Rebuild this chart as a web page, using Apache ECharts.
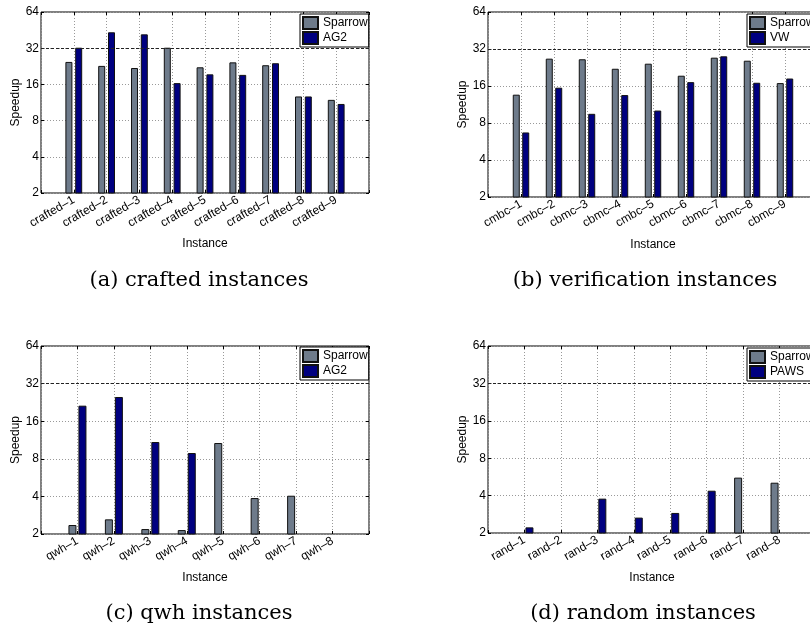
<!DOCTYPE html>
<html>
<head>
    <meta charset="utf-8">
    <title>Speedup</title>
    <script src="https://cdn.jsdelivr.net/npm/echarts@6/dist/echarts.min.js"></script>
</head>
<body style="margin:0;background:#fff;">
    <div id="main" style="width:810px;height:635px;"></div>
    <script type="text/javascript">
        // data
        var craftedNames = ['crafted–1', 'crafted–2', 'crafted–3', 'crafted–4', 'crafted–5', 'crafted–6', 'crafted–7', 'crafted–8', 'crafted–9'];
        var craftedSparrow = [24.6, 22.8, 21.9, 32.3, 22.2, 24.4, 23.1, 12.7, 11.9];
        var craftedAG2 = [32.3, 43.4, 41.7, 16.4, 19.4, 19.2, 24.0, 12.7, 11.0];

        var verifNames = ['cmbc–1', 'cmbc–2', 'cbmc–3', 'cbmc–4', 'cmbc–5', 'cbmc–6', 'cbmc–7', 'cbmc–8', 'cbmc–9'];
        var verifSparrow = [13.6, 26.7, 26.4, 22.1, 24.3, 19.4, 27.2, 25.7, 16.9];
        var verifVW = [6.7, 15.5, 9.5, 13.5, 10.1, 17.2, 27.9, 17.0, 18.4];

        var qwhNames = ['qwh–1', 'qwh–2', 'qwh–3', 'qwh–4', 'qwh–5', 'qwh–6', 'qwh–7', 'qwh–8'];
        var qwhSparrow = [2.36, 2.62, 2.19, 2.15, 10.7, 3.88, 4.05, null];
        var qwhAG2 = [21.3, 25.0, 10.9, 8.9, null, null, null, null];

        var randNames = ['rand–1', 'rand–2', 'rand–3', 'rand–4', 'rand–5', 'rand–6', 'rand–7', 'rand–8'];
        var randSparrow = [null, null, null, null, null, null, 5.58, 5.08];
        var randPAWS = [2.22, null, 3.78, 2.66, 2.9, 4.38, null, null];

        var captions = ['(a) crafted instances', '(b) verification instances', '(c) qwh instances', '(d) random instances'];

        var sans = 'Liberation Sans, Arial, Helvetica, sans-serif';
        var grayBar = '#6e7b8b';
        var navyBar = '#000080';

        // matlab style x axis: empty slot at both ends
        function padNames(a) { return [''].concat(a, ['']); }
        function padVals(a) { return [null].concat(a, [null]); }

        var panels = [
            {names: craftedNames, s: craftedSparrow, o: craftedAG2, other: 'AG2',
             grid: {left: 41, top: 12, width: 328, height: 181}, bw: 7, gap: '40%', xGap: 45, yGap: 18, legend: {left: 300, top: 14}},
            {names: verifNames, s: verifSparrow, o: verifVW, other: 'VW',
             grid: {left: 488, top: 12, width: 330, height: 185}, bw: 7, gap: '35%', xGap: 42, yGap: 18, legend: {left: 747, top: 14}},
            {names: qwhNames, s: qwhSparrow, o: qwhAG2, other: 'AG2',
             grid: {left: 41, top: 346, width: 328, height: 188}, bw: 8, gap: '25%', xGap: 38, yGap: 18, legend: {left: 300, top: 347}},
            {names: randNames, s: randSparrow, o: randPAWS, other: 'PAWS',
             grid: {left: 488, top: 346, width: 328, height: 187}, bw: 8, gap: '25%', xGap: 39, yGap: 18, legend: {left: 747, top: 348}}
        ];

        var grids = [], xAxes = [], yAxes = [], series = [], legends = [];
        var tickStyle = {show: true, inside: true, length: 3, interval: 0, lineStyle: {color: '#000'}};

        for (var i = 0; i < panels.length; i++) {
            var p = panels[i];
            var g = p.grid;
            grids.push({left: g.left, top: g.top, width: g.width, height: g.height,
                show: true, borderColor: '#000', borderWidth: 1, backgroundColor: 'transparent',
                outerBoundsMode: 'none'});
            xAxes.push({
                type: 'category', gridIndex: i, data: padNames(p.names), boundaryGap: false,
                axisLine: {show: false},
                axisTick: tickStyle,
                axisLabel: {rotate: 30, interval: 0, fontSize: 12, color: '#000', margin: 6, fontFamily: sans},
                splitLine: {show: true, interval: 0, lineStyle: {type: [1, 2], color: '#999'}},
                name: 'Instance', nameLocation: 'middle', nameGap: p.xGap,
                nameTextStyle: {fontSize: 12, color: '#000', fontFamily: sans}
            });
            yAxes.push({
                type: 'log', logBase: 2, min: 2, max: 64, gridIndex: i,
                axisLine: {show: false},
                axisTick: tickStyle,
                axisLabel: {fontSize: 12, color: '#000', margin: 2, fontFamily: sans},
                splitLine: {show: true, lineStyle: {type: [1, 2], color: '#999'}},
                name: 'Speedup', nameLocation: 'middle', nameGap: p.yGap, nameRotate: 90,
                nameTextStyle: {fontSize: 12, color: '#000', fontFamily: sans}
            });
            series.push({
                type: 'bar', name: 'Sparrow', xAxisIndex: i, yAxisIndex: i,
                data: padVals(p.s), barWidth: p.bw, barGap: p.gap, clip: true,
                itemStyle: {color: grayBar, borderColor: '#111', borderWidth: 1},
                markLine: {silent: true, symbol: 'none', label: {show: false},
                    lineStyle: {type: [3, 2], color: '#222', width: 1},
                    data: [{yAxis: 32}]}
            });
            series.push({
                type: 'bar', name: p.other, xAxisIndex: i, yAxisIndex: i,
                data: padVals(p.o), barWidth: p.bw, barGap: p.gap, clip: true,
                itemStyle: {color: navyBar, borderColor: '#111', borderWidth: 1}
            });
            legends.push({
                data: ['Sparrow', p.other], orient: 'vertical', left: p.legend.left, top: p.legend.top,
                icon: 'rect', itemWidth: 15, itemHeight: 12, itemGap: 1, padding: [2, 1, 2, 2],
                borderColor: '#000', borderWidth: 1, backgroundColor: '#fff', selectedMode: false,
                textStyle: {fontSize: 12, color: '#000', fontFamily: sans}
            });
        }

        // tick marks on the top and right edges of every box
        for (var j = 0; j < panels.length; j++) {
            xAxes.push({
                type: 'category', gridIndex: j, position: 'top', data: padNames(panels[j].names), boundaryGap: false,
                axisLine: {show: false}, axisTick: tickStyle, axisLabel: {show: false}, splitLine: {show: false}
            });
            yAxes.push({
                type: 'log', logBase: 2, min: 2, max: 64, gridIndex: j, position: 'right',
                axisLine: {show: false}, axisTick: tickStyle, axisLabel: {show: false}, splitLine: {show: false}
            });
        }

        var capPos = [[199, 281], [645, 281], [199, 614], [643, 614]];
        var graphics = [];
        for (var k = 0; k < captions.length; k++) {
            graphics.push({type: 'text', x: capPos[k][0], y: capPos[k][1],
                style: {text: captions[k], font: '21px "DejaVu Serif", serif', fill: '#000',
                    textAlign: 'center', textVerticalAlign: 'middle'}});
        }

        var myChart = echarts.init(document.getElementById('main'), null, {renderer: 'canvas'});
        myChart.setOption({
            backgroundColor: '#fff',
            animation: false,
            grid: grids,
            xAxis: xAxes,
            yAxis: yAxes,
            legend: legends,
            series: series,
            graphic: graphics
        });
    </script>
</body>
</html>
